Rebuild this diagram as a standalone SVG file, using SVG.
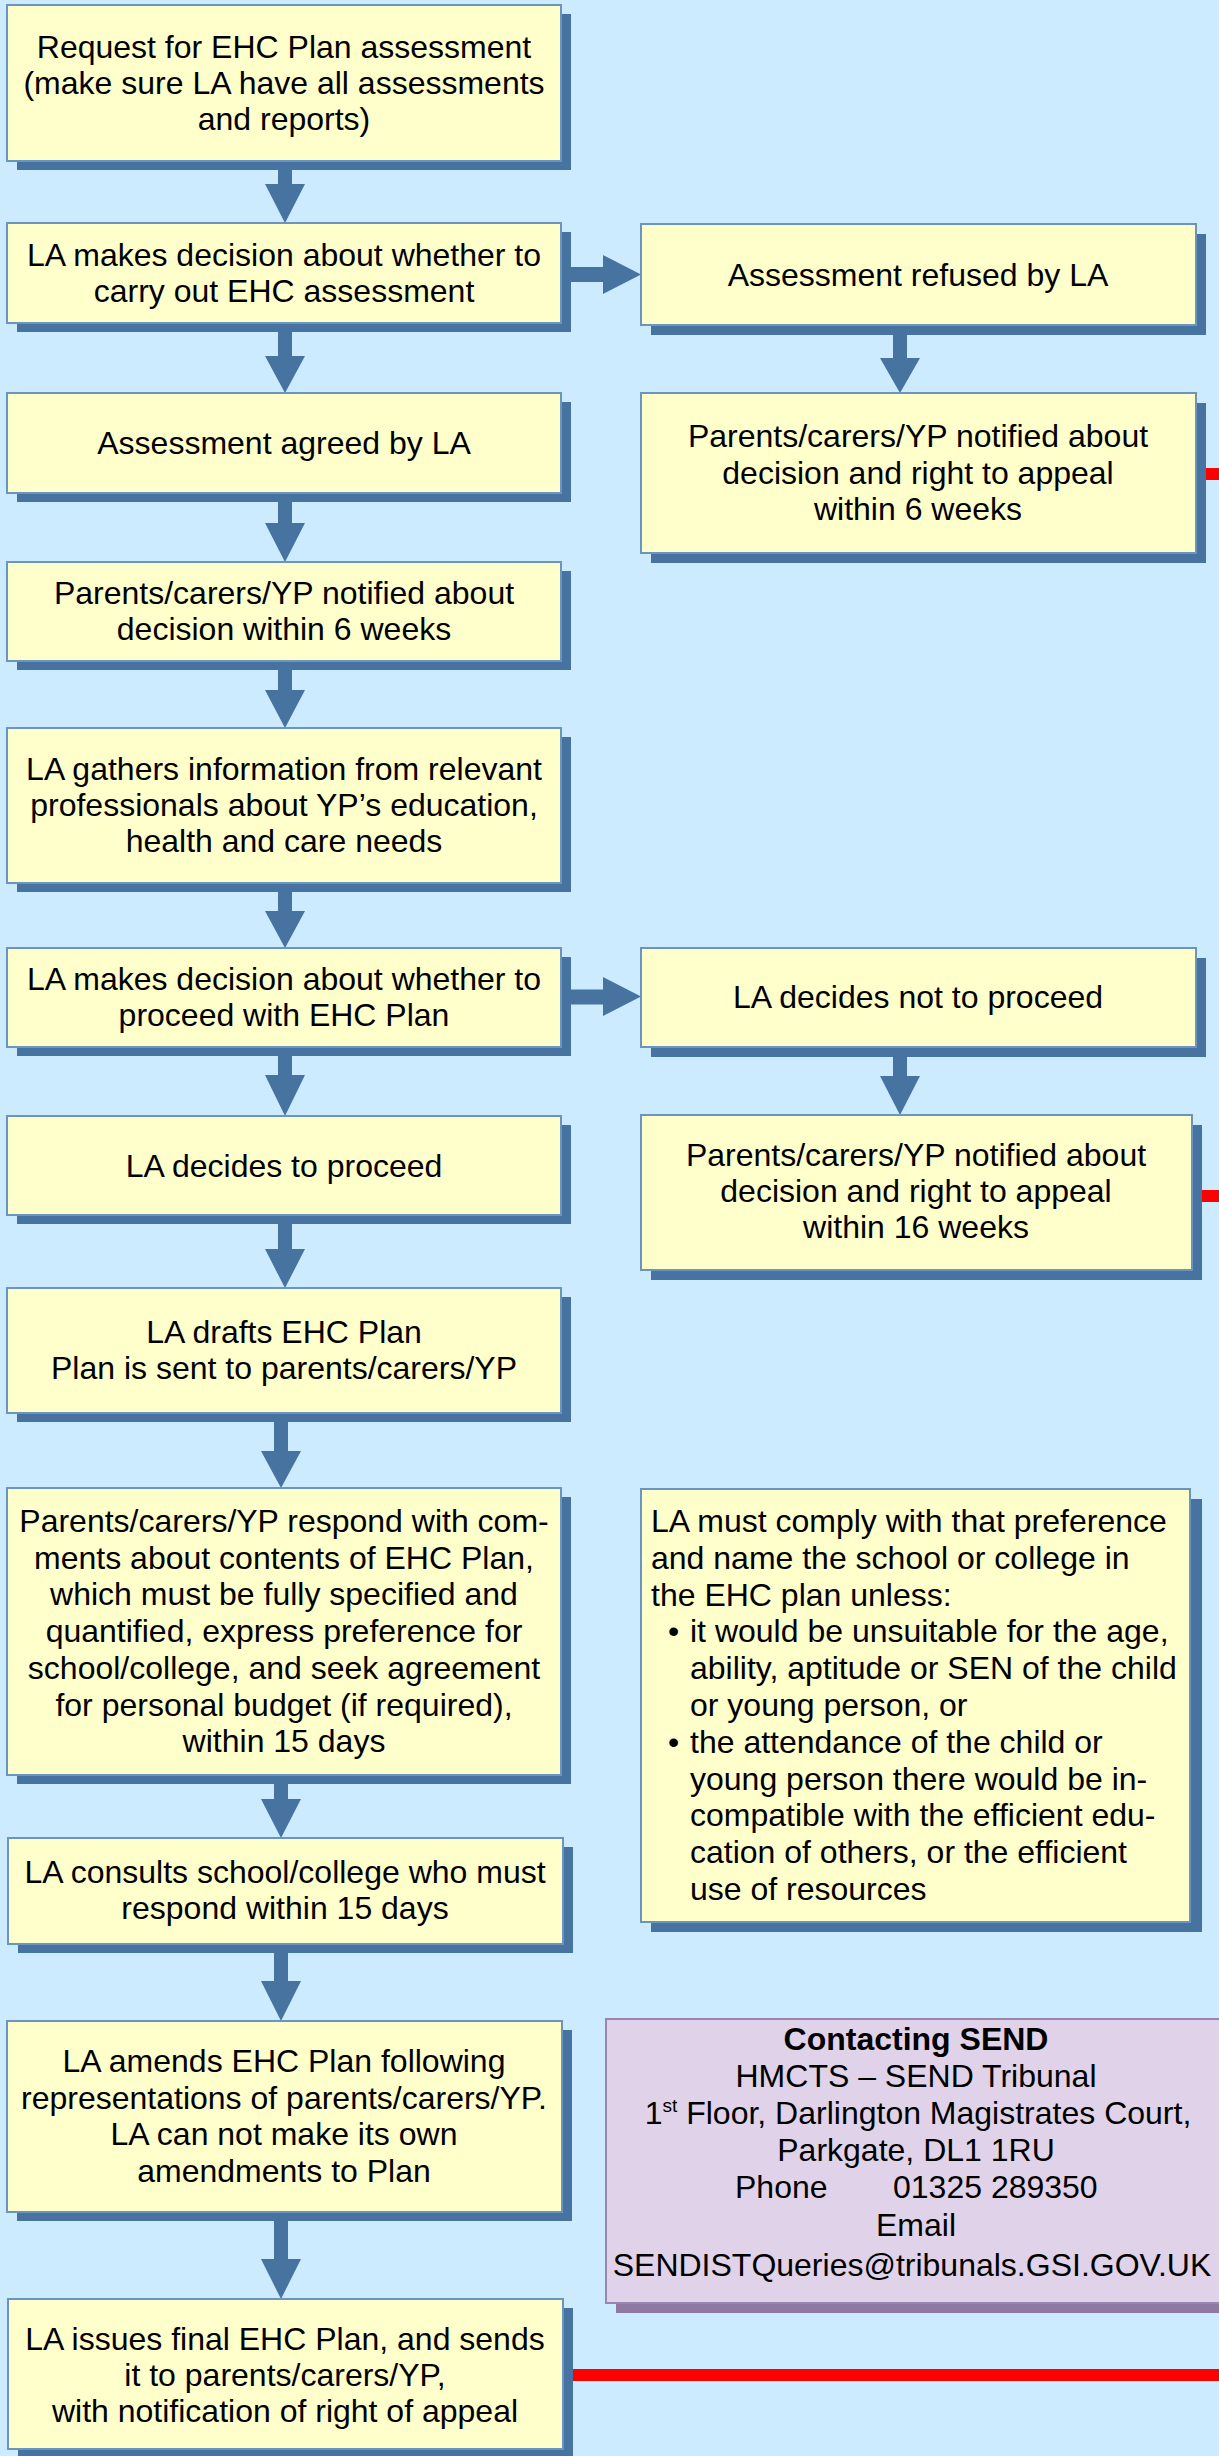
<svg xmlns="http://www.w3.org/2000/svg" width="1219" height="2456" viewBox="0 0 1219 2456">
<style>
.box{fill:#FFFFCC;stroke:#6B95C0;stroke-width:2}
.sh{fill:#46739F}
.pbox{fill:#E0D3E9;stroke:#9A86B0;stroke-width:2}
.psh{fill:#8F78A2}
.t{font-family:"Liberation Sans",Arial,sans-serif;font-size:32px;fill:#000;text-anchor:middle}
.tl{text-anchor:start}
.arr{fill:#46739F}
.red{fill:#FF0000}
</style>
<rect x="0" y="0" width="1219" height="2456" fill="#CCEBFF"/>

<g id="connectors">
  <polygon class="arr" points="278,165 292,165 292,184 305,184 285,223 265,184 278,184"/>
  <polygon class="arr" points="278,327 292,327 292,356 305,356 285,393 265,356 278,356"/>
  <polygon class="arr" points="278,497 292,497 292,523 305,523 285,562 265,523 278,523"/>
  <polygon class="arr" points="278,665 292,665 292,690 305,690 285,728 265,690 278,690"/>
  <polygon class="arr" points="278,887 292,887 292,911 305,911 285,948 265,911 278,911"/>
  <polygon class="arr" points="278,1051 292,1051 292,1075 305,1075 285,1116 265,1075 278,1075"/>
  <polygon class="arr" points="278,1219 292,1219 292,1249 305,1249 285,1288 265,1249 278,1249"/>
  <polygon class="arr" points="274,1417 288,1417 288,1451 301,1451 281,1488 261,1451 274,1451"/>
  <polygon class="arr" points="274,1779 288,1779 288,1799 301,1799 281,1838 261,1799 274,1799"/>
  <polygon class="arr" points="274,1948 288,1948 288,1981 301,1981 281,2021 261,1981 274,1981"/>
  <polygon class="arr" points="274,2216 288,2216 288,2259 301,2259 281,2299 261,2259 274,2259"/>
  <polygon class="arr" points="893,329 907,329 907,358 920,358 900,393 880,358 893,358"/>
  <polygon class="arr" points="893,1051 907,1051 907,1076 920,1076 900,1115 880,1076 893,1076"/>
  <polygon class="arr" points="571,267 603,267 603,255 641,274.5 603,294 603,282 571,282"/>
  <polygon class="arr" points="571,989.5 603,989.5 603,977 641,996.5 603,1016 603,1004.5 571,1004.5"/>
  <rect class="red" x="1206" y="468" width="13" height="12"/>
  <rect class="red" x="1202" y="1190" width="17" height="12"/>
  <rect class="red" x="572" y="2369" width="647" height="12"/>
</g>

<g id="n1">
  <rect class="sh" x="17" y="14" width="554" height="156"/>
  <rect class="box" x="7" y="5" width="554" height="156"/>
  <text class="t" x="284" y="58">Request for EHC Plan assessment</text>
  <text class="t" x="284" y="94">(make sure LA have all assessments</text>
  <text class="t" x="284" y="130">and reports)</text>
</g>
<g id="n2">
  <rect class="sh" x="17" y="232" width="554" height="100"/>
  <rect class="box" x="7" y="223" width="554" height="100"/>
  <text class="t" x="284" y="266">LA makes decision about whether to</text>
  <text class="t" x="284" y="302">carry out EHC assessment</text>
</g>
<g id="n3">
  <rect class="sh" x="17" y="402" width="554" height="100"/>
  <rect class="box" x="7" y="393" width="554" height="100"/>
  <text class="t" x="284" y="454">Assessment agreed by LA</text>
</g>
<g id="n4">
  <rect class="sh" x="17" y="571" width="554" height="99"/>
  <rect class="box" x="7" y="562" width="554" height="99"/>
  <text class="t" x="284" y="604">Parents/carers/YP notified about</text>
  <text class="t" x="284" y="640">decision within 6 weeks</text>
</g>
<g id="n5">
  <rect class="sh" x="17" y="737" width="554" height="155"/>
  <rect class="box" x="7" y="728" width="554" height="155"/>
  <text class="t" x="284" y="780">LA gathers information from relevant</text>
  <text class="t" x="284" y="816">professionals about YP’s education,</text>
  <text class="t" x="284" y="852">health and care needs</text>
</g>
<g id="n6">
  <rect class="sh" x="17" y="957" width="554" height="99"/>
  <rect class="box" x="7" y="948" width="554" height="99"/>
  <text class="t" x="284" y="990">LA makes decision about whether to</text>
  <text class="t" x="284" y="1026">proceed with EHC Plan</text>
</g>
<g id="n7">
  <rect class="sh" x="17" y="1125" width="554" height="99"/>
  <rect class="box" x="7" y="1116" width="554" height="99"/>
  <text class="t" x="284" y="1177">LA decides to proceed</text>
</g>
<g id="n8">
  <rect class="sh" x="17" y="1297" width="554" height="125"/>
  <rect class="box" x="7" y="1288" width="554" height="125"/>
  <text class="t" x="284" y="1343">LA drafts EHC Plan</text>
  <text class="t" x="284" y="1379">Plan is sent to parents/carers/YP</text>
</g>
<g id="n9">
  <rect class="sh" x="17" y="1497" width="554" height="287"/>
  <rect class="box" x="7" y="1488" width="554" height="287"/>
  <text class="t" x="284" y="1532">Parents/carers/YP respond with com-</text>
  <text class="t" x="284" y="1568.7">ments about contents of EHC Plan,</text>
  <text class="t" x="284" y="1605.4">which must be fully specified and</text>
  <text class="t" x="284" y="1642.1">quantified, express preference for</text>
  <text class="t" x="284" y="1678.8">school/college, and seek agreement</text>
  <text class="t" x="284" y="1715.5">for personal budget (if required),</text>
  <text class="t" x="284" y="1752.2">within 15 days</text>
</g>
<g id="n10">
  <rect class="sh" x="18" y="1847" width="555" height="106"/>
  <rect class="box" x="8" y="1838" width="555" height="106"/>
  <text class="t" x="285" y="1883">LA consults school/college who must</text>
  <text class="t" x="285" y="1919">respond within 15 days</text>
</g>
<g id="n11">
  <rect class="sh" x="17" y="2030" width="555" height="191"/>
  <rect class="box" x="7" y="2021" width="555" height="191"/>
  <text class="t" x="284" y="2072">LA amends EHC Plan following</text>
  <text class="t" x="284" y="2108.5">representations of parents/carers/YP.</text>
  <text class="t" x="284" y="2145">LA can not make its own</text>
  <text class="t" x="284" y="2181.5">amendments to Plan</text>
</g>
<g id="n12">
  <rect class="sh" x="18" y="2308" width="555" height="150"/>
  <rect class="box" x="8" y="2299" width="555" height="150"/>
  <text class="t" x="285" y="2350">LA issues final EHC Plan, and sends</text>
  <text class="t" x="285" y="2386">it to parents/carers/YP,</text>
  <text class="t" x="285" y="2422">with notification of right of appeal</text>
</g>

<g id="r1">
  <rect class="sh" x="651" y="234" width="555" height="101"/>
  <rect class="box" x="641" y="224" width="555" height="101"/>
  <text class="t" x="918" y="286">Assessment refused by LA</text>
</g>
<g id="r2">
  <rect class="sh" x="651" y="403" width="555" height="160"/>
  <rect class="box" x="641" y="393" width="555" height="160"/>
  <text class="t" x="918" y="447">Parents/carers/YP notified about</text>
  <text class="t" x="918" y="483.5">decision and right to appeal</text>
  <text class="t" x="918" y="520">within 6 weeks</text>
</g>
<g id="r3">
  <rect class="sh" x="651" y="958" width="555" height="99"/>
  <rect class="box" x="641" y="948" width="555" height="99"/>
  <text class="t" x="918" y="1008">LA decides not to proceed</text>
</g>
<g id="r4">
  <rect class="sh" x="651" y="1125" width="551" height="155"/>
  <rect class="box" x="641" y="1115" width="551" height="155"/>
  <text class="t" x="916" y="1166">Parents/carers/YP notified about</text>
  <text class="t" x="916" y="1202">decision and right to appeal</text>
  <text class="t" x="916" y="1238">within 16 weeks</text>
</g>
<g id="r5">
  <rect class="sh" x="651" y="1499" width="551" height="433"/>
  <rect class="box" x="641" y="1489" width="549" height="433"/>
  <text class="t tl" x="651" y="1532">LA must comply with that preference</text>
  <text class="t tl" x="651" y="1568.8">and name the school or college in</text>
  <text class="t tl" x="651" y="1605.6">the EHC plan unless:</text>
  <text class="t tl" x="668" y="1642.4">•</text>
  <text class="t tl" x="690" y="1642.4">it would be unsuitable for the age,</text>
  <text class="t tl" x="690" y="1679.2">ability, aptitude or SEN of the child</text>
  <text class="t tl" x="690" y="1716">or young person, or</text>
  <text class="t tl" x="668" y="1752.8">•</text>
  <text class="t tl" x="690" y="1752.8">the attendance of the child or</text>
  <text class="t tl" x="690" y="1789.6">young person there would be in-</text>
  <text class="t tl" x="690" y="1826.4">compatible with the efficient edu-</text>
  <text class="t tl" x="690" y="1863.2">cation of others, or the efficient</text>
  <text class="t tl" x="690" y="1900">use of resources</text>
</g>
<g id="contact">
  <rect class="psh" x="616" y="2029" width="640" height="284"/>
  <rect class="pbox" x="606" y="2019" width="640" height="284"/>
  <text class="t" x="916" y="2050" font-weight="bold">Contacting SEND</text>
  <text class="t" x="916" y="2087">HMCTS – SEND Tribunal</text>
  <text class="t" x="918" y="2124">1<tspan font-size="19" dy="-12">st</tspan><tspan dy="12"> Floor, Darlington Magistrates Court,</tspan></text>
  <text class="t" x="916" y="2161">Parkgate, DL1 1RU</text>
  <text class="t tl" x="735" y="2198">Phone<tspan x="893">01325 289350</tspan></text>
  <text class="t" x="916" y="2236">Email</text>
  <text class="t" x="912" y="2276">SENDISTQueries@tribunals.GSI.GOV.UK</text>
</g>
</svg>
